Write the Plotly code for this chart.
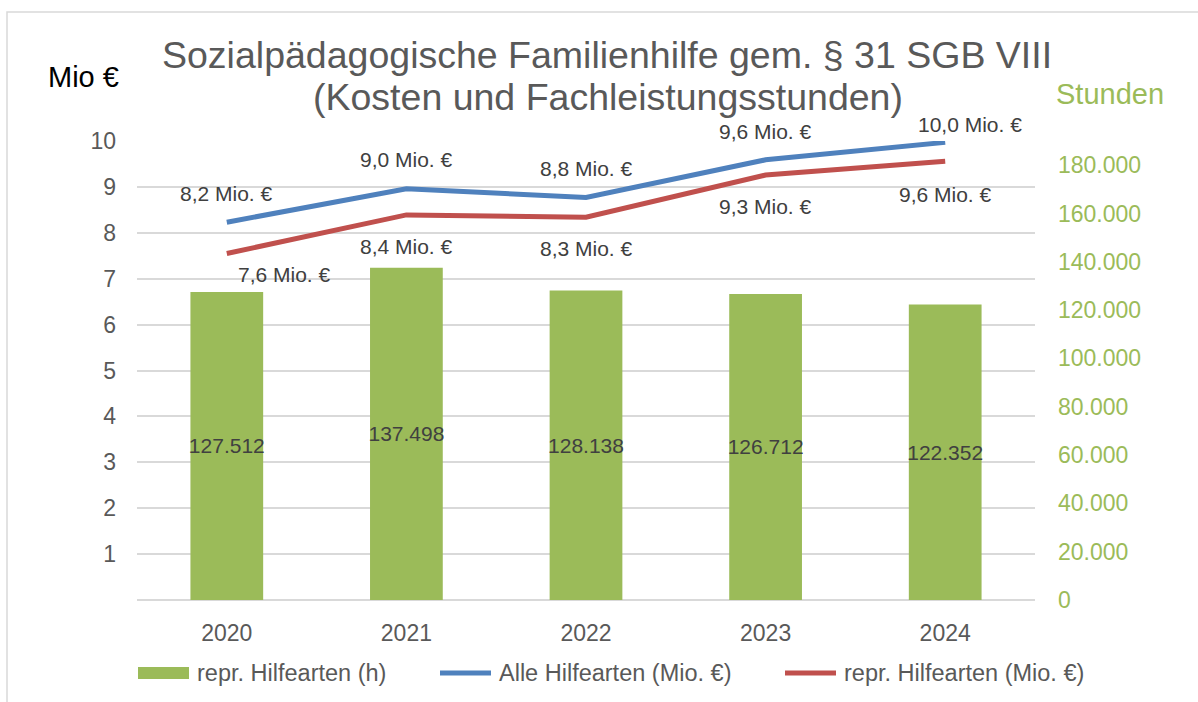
import plotly.graph_objects as go

# ---------------- data ----------------
years = ["2020", "2021", "2022", "2023", "2024"]
hours_repr = [127512, 137498, 128138, 126712, 122352]          # Fachleistungsstunden (right axis)
cost_all = [8.23, 8.96, 8.77, 9.59, 9.97]                      # Alle Hilfearten (Mio. €)
cost_repr = [7.55, 8.39, 8.34, 9.26, 9.56]                     # repr. Hilfearten (Mio. €)
left_ticks = [1, 2, 3, 4, 5, 6, 7, 8, 9, 10]
right_ticks = [0, 20000, 40000, 60000, 80000, 100000, 120000, 140000, 160000, 180000]

title_lines = ["Sozialpädagogische Familienhilfe gem. § 31 SGB VIII",
               "(Kosten und Fachleistungsstunden)"]
series_names = ["repr. Hilfearten (h)", "Alle Hilfearten (Mio. €)", "repr. Hilfearten (Mio. €)"]

# label offsets (pixels) for the line data labels
all_label_shift_x = [0, 0, 0, 0, 25]
all_label_shift_y = [29, 29, 29, 28, 18]
repr_label_shift_x = [58, 0, 0, 0, 0]
repr_label_shift_y = [-21, -32, -31, -32, -33]

# ---------------- style ----------------
FONT = "Liberation Sans, Arial, sans-serif"
GREEN = "#9BBB59"
BLUE = "#4F81BD"
RED = "#C0504D"
GRAY = "#595959"
LABEL = "#404040"
GRID = "#D9D9D9"

W, H = 1198, 702
L, R, T, B = 137, 1035, 141, 600


def px_x(px):
    return (px - L) / (R - L)


def px_y(py):
    return (B - py) / (B - T)


def fmt_mio(v):
    return f"{round(v + 1e-9, 1):.1f}".replace(".", ",") + " Mio. €"


fig = go.Figure()

fig.add_trace(go.Bar(
    x=years, y=hours_repr, yaxis="y2", name=series_names[0],
    marker=dict(color=GREEN, line=dict(width=0)),
    width=0.405,
    texttemplate="%{y:,.0f}", textposition="inside", insidetextanchor="middle",
    constraintext="none", textangle=0,
    textfont=dict(family=FONT, size=21, color=LABEL),
    showlegend=False, cliponaxis=False,
))

fig.add_trace(go.Scatter(
    x=years, y=cost_all, yaxis="y", name=series_names[1], mode="lines",
    line=dict(color=BLUE, width=5), showlegend=False,
))
fig.add_trace(go.Scatter(
    x=years, y=cost_repr, yaxis="y", name=series_names[2], mode="lines",
    line=dict(color=RED, width=5), showlegend=False,
))

annotations = []
for i in range(len(years)):
    annotations.append(dict(
        x=i, y=cost_all[i], xref="x", yref="y", text=fmt_mio(cost_all[i]),
        showarrow=False, xshift=all_label_shift_x[i], yshift=all_label_shift_y[i],
        font=dict(family=FONT, size=21, color=LABEL), xanchor="center", yanchor="middle",
    ))
    annotations.append(dict(
        x=i, y=cost_repr[i], xref="x", yref="y", text=fmt_mio(cost_repr[i]),
        showarrow=False, xshift=repr_label_shift_x[i], yshift=repr_label_shift_y[i],
        font=dict(family=FONT, size=21, color=LABEL), xanchor="center", yanchor="middle",
    ))

# title (two lines)
annotations.append(dict(text=title_lines[0], xref="paper", yref="paper",
                        x=px_x(607), y=px_y(55), xanchor="center", yanchor="middle",
                        showarrow=False, font=dict(family=FONT, size=37.5, color=GRAY)))
annotations.append(dict(text=title_lines[1], xref="paper", yref="paper",
                        x=px_x(608), y=px_y(97), xanchor="center", yanchor="middle",
                        showarrow=False, font=dict(family=FONT, size=37.5, color=GRAY)))
# axis titles
annotations.append(dict(text="Mio €", xref="paper", yref="paper",
                        x=px_x(46), y=px_y(77), xanchor="left", yanchor="middle",
                        showarrow=False, font=dict(family=FONT, size=29, color="#000000")))
annotations.append(dict(text="Stunden", xref="paper", yref="paper",
                        x=px_x(1054), y=px_y(94), xanchor="left", yanchor="middle",
                        showarrow=False, font=dict(family=FONT, size=29, color=GREEN)))

# legend (drawn manually)
legend_y = 673
shapes = [
    dict(type="rect", xref="paper", yref="paper",
         x0=px_x(138), x1=px_x(189), y0=px_y(667), y1=px_y(679),
         fillcolor=GREEN, line=dict(width=0)),
    dict(type="line", xref="paper", yref="paper",
         x0=px_x(440), x1=px_x(491), y0=px_y(legend_y), y1=px_y(legend_y),
         line=dict(color=BLUE, width=5)),
    dict(type="line", xref="paper", yref="paper",
         x0=px_x(785), x1=px_x(836), y0=px_y(legend_y), y1=px_y(legend_y),
         line=dict(color=RED, width=5)),
    # outer chart border (top + left visible)
    dict(type="rect", xref="paper", yref="paper",
         x0=px_x(7), x1=px_x(W + 20), y0=px_y(H + 20), y1=px_y(12),
         fillcolor="rgba(0,0,0,0)", line=dict(color=GRID, width=1.5), layer="below"),
]
for name, xs in zip(series_names, [195, 497, 842]):
    annotations.append(dict(text=name, xref="paper", yref="paper",
                            x=px_x(xs), y=px_y(legend_y), xanchor="left", yanchor="middle",
                            showarrow=False, font=dict(family=FONT, size=23.5, color=GRAY)))

fig.update_layout(
    width=W, height=H,
    margin=dict(l=L, r=W - R, t=T, b=H - B, pad=0),
    paper_bgcolor="white", plot_bgcolor="white",
    separators=",.",
    showlegend=False,
    bargap=0.595,
    font=dict(family=FONT, color=GRAY),
    xaxis=dict(
        type="category", range=[-0.5, 4.5], showgrid=False, zeroline=False,
        showline=False, ticks="", ticklabelstandoff=17,
        tickfont=dict(family=FONT, size=23, color=GRAY),
    ),
    yaxis=dict(
        range=[0, 10], tickmode="array", tickvals=left_ticks,
        ticktext=[str(v) for v in left_ticks],
        showgrid=True, gridcolor=GRID, gridwidth=1.5,
        zeroline=True, zerolinecolor=GRID, zerolinewidth=1.5,
        showline=False, ticks="", ticklabelstandoff=20,
        tickfont=dict(family=FONT, size=23, color=GRAY),
    ),
    yaxis2=dict(
        range=[0, 190000], overlaying="y", side="right", tickmode="array",
        tickvals=right_ticks, tickformat=",.0f",
        showgrid=False, zeroline=False, showline=False, ticks="", ticklabelstandoff=22,
        tickfont=dict(family=FONT, size=23, color=GREEN),
    ),
    annotations=annotations,
    shapes=shapes,
)

fig.write_html("out.html", config={"displayModeBar": False},
               post_script="document.body.style.margin='0px';")
